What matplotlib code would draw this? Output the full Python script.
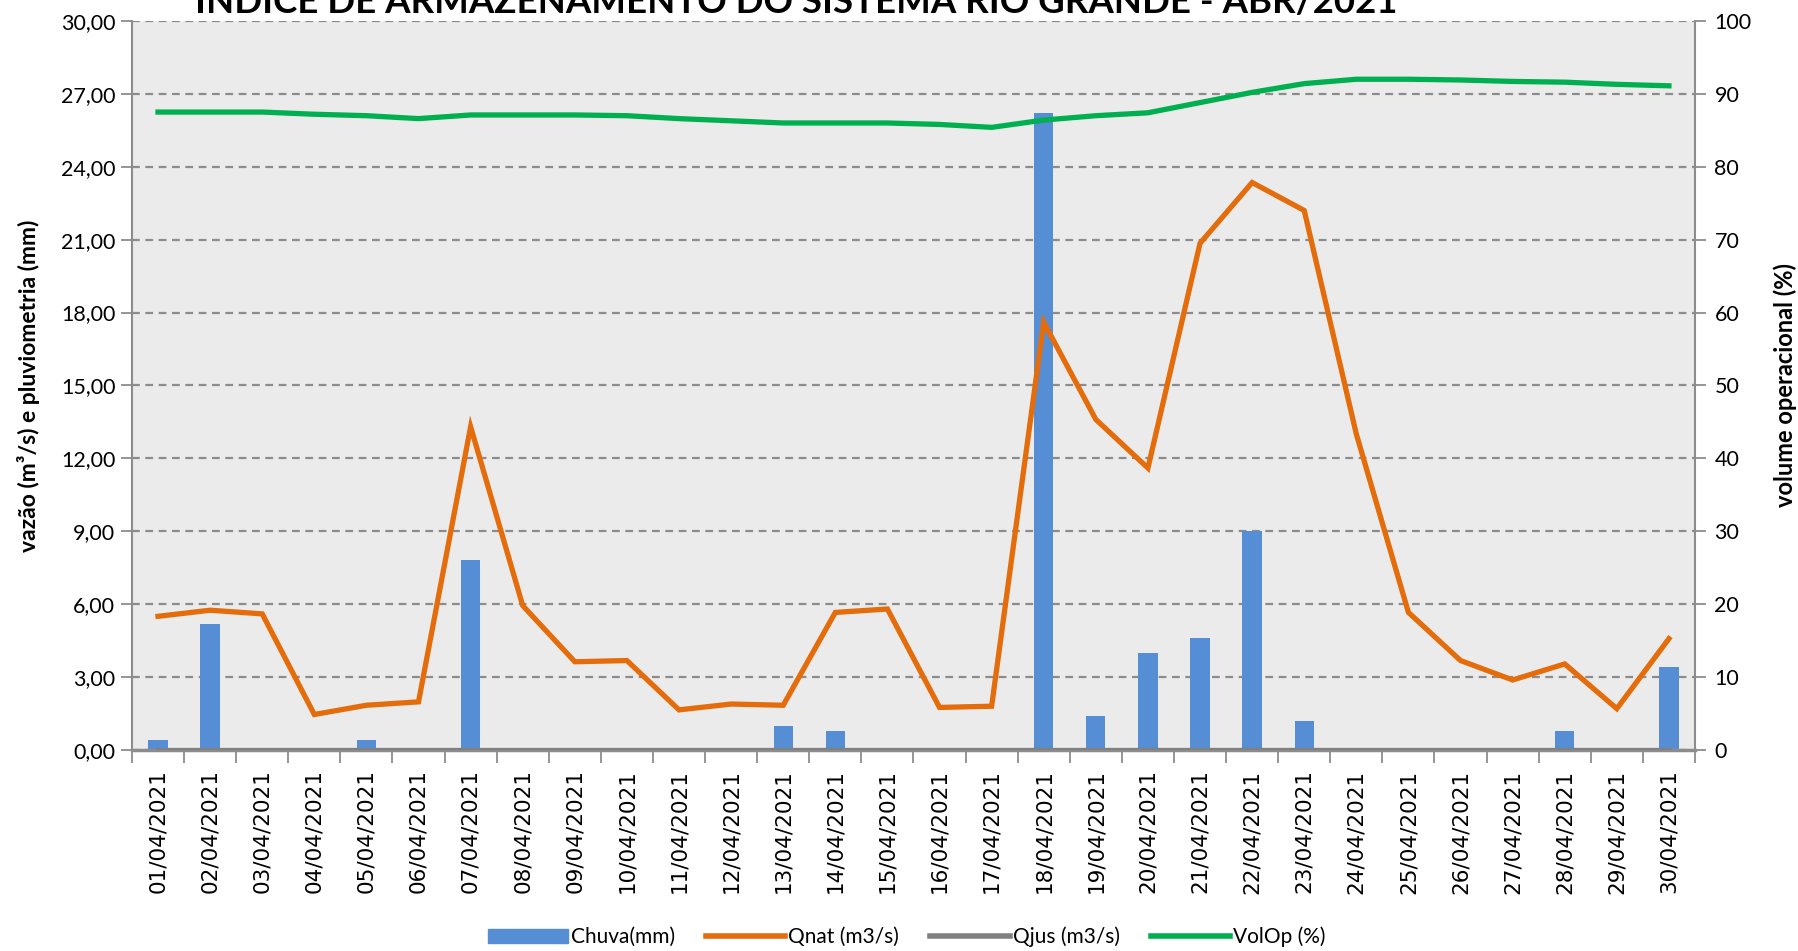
import matplotlib
matplotlib.use("Agg")
import matplotlib.pyplot as plt
import numpy as np
from matplotlib.patches import Patch
from matplotlib.lines import Line2D

plt.rcParams['font.family'] = ['Lato', 'DejaVu Sans']

dates = [f"{d:02d}/04/2021" for d in range(1, 31)]
chuva = [0.4, 5.2, 0, 0, 0.4, 0, 7.8, 0, 0, 0, 0, 0, 1.0, 0.8, 0, 0, 0, 26.2, 1.4, 4.0,
         4.6, 9.0, 1.2, 0, 0, 0, 0, 0.8, 0, 3.4]
qnat = [5.5, 5.75, 5.6, 1.46, 1.84, 1.98, 13.3, 5.94, 3.63, 3.68, 1.65, 1.89, 1.84, 5.66, 5.8,
        1.75, 1.8, 17.6, 13.6, 11.6, 20.85, 23.35, 22.2, 13.0, 5.66, 3.68, 2.88, 3.54, 1.7, 4.58]
qjus = [0.0] * 30
volop = [87.5, 87.5, 87.5, 87.2, 87.0, 86.6, 87.1, 87.1, 87.1, 87.0, 86.6, 86.3, 86.0, 86.0, 86.0,
         85.8, 85.4, 86.4, 87.0, 87.4, 88.8, 90.2, 91.4, 92.0, 92.0, 91.9, 91.7, 91.6, 91.3, 91.1]

left_ticks = np.arange(0, 31, 3)
right_ticks = np.arange(0, 101, 10)

fig = plt.figure(figsize=(17.98, 9.51), dpi=100)
ax = fig.add_axes([0.0734, 0.2114, 0.9427 - 0.0734, 0.978 - 0.2114])
ax.set_facecolor('#EBEBEB')
x = np.arange(len(dates))

ax.bar(x, chuva, width=0.37, color='#558ED5', zorder=2)
ax.plot(x, qnat, color='#E46C0A', lw=3.8, zorder=3, solid_joinstyle='miter')
ax.plot(x, qjus, color='#808080', lw=3.8, zorder=3)

ax.set_xlim(-0.5, len(dates) - 0.5)
ax.set_ylim(0, 30)
ax.set_yticks(left_ticks)
ax.set_yticklabels([f"{v:.2f}".replace('.', ',') for v in left_ticks], fontsize=15.5)
ax.yaxis.grid(True, linestyle=(0, (3.5, 2.5)), color='#8C8C8C', lw=1.6, zorder=1)
ax.set_axisbelow(True)

ax.set_xticks(x)
ax.set_xticklabels(dates, rotation=90, fontsize=15.5, family='DejaVu Sans')
ax.set_xticks(np.arange(-0.5, len(dates), 1), minor=True)
ax.tick_params(axis='x', which='major', length=0, pad=14)
ax.tick_params(axis='x', which='minor', length=9, width=1.3, color='#8C8C8C')
ax.tick_params(axis='y', length=8, width=1.3, color='#8C8C8C', pad=4)

ax.spines['top'].set_visible(False)
ax.spines['left'].set_color('#8C8C8C')
ax.spines['left'].set_linewidth(1.5)
ax.spines['right'].set_visible(False)
ax.spines['bottom'].set_color('#8C8C8C')
ax.spines['bottom'].set_linewidth(2.5)

ax.set_ylabel("vazão (m³/s) e pluviometria (mm)", fontsize=16.5, fontweight='bold', labelpad=15)

ax2 = ax.twinx()
ax2.plot(x, volop, color='#00B050', lw=3.8, zorder=4)
ax2.set_ylim(0, 100)
ax2.set_yticks(right_ticks)
ax2.set_yticklabels([str(v) for v in right_ticks], fontsize=15.5)
ax2.tick_params(axis='y', length=8, width=1.3, color='#8C8C8C', pad=6)
for s in ['top', 'left', 'bottom']:
    ax2.spines[s].set_visible(False)
ax2.spines['right'].set_color('#8C8C8C')
ax2.spines['right'].set_linewidth(1.5)
ax2.set_ylabel("volume operacional (%)", fontsize=17, fontweight='bold', labelpad=16)

fig.text(0.443, 1 - 13 / 951, "ÍNDICE DE ARMAZENAMENTO DO SISTEMA RIO GRANDE - ABR/2021",
         ha='center', va='baseline', fontsize=26.4, fontweight='bold')

handles = [Patch(color='#558ED5'),
           Line2D([], [], color='#E46C0A', lw=4),
           Line2D([], [], color='#808080', lw=4),
           Line2D([], [], color='#00B050', lw=4)]
labels = ["Chuva(mm)", "Qnat (m3/s)", "Qjus (m3/s)", "VolOp (%)"]
fig.legend(handles, labels, loc='center', bbox_to_anchor=(0.5045, 1 - 937 / 951), ncol=4,
           frameon=False, fontsize=15, handlelength=3.8, handletextpad=0.15, columnspacing=1.5)

fig.savefig("out.png", dpi=100)
